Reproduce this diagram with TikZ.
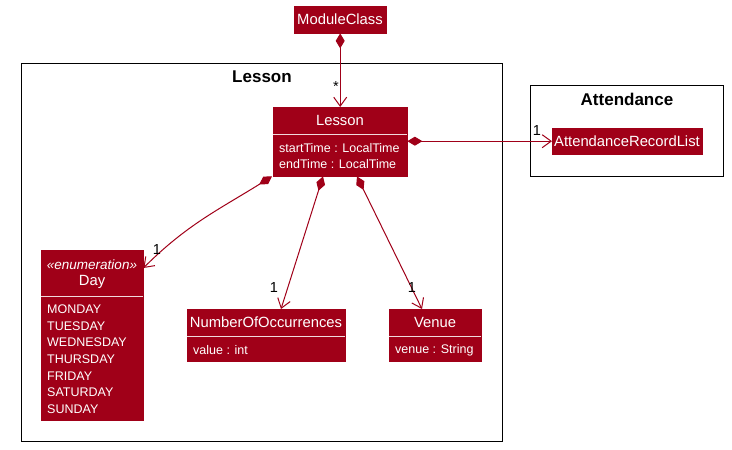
\documentclass[tikz,border=0pt]{standalone}
\usepackage{fontspec}
\setmainfont{Liberation Sans}
\usetikzlibrary{arrows.meta,calc}
\definecolor{umlred}{RGB}{160,0,24}
\begin{document}
\begin{tikzpicture}[x=1pt,y=-1pt,
 cls/.style={fill=umlred,draw=umlred,inner sep=0,anchor=north west},
 nm/.style={text=white,font=\fontsize{14.8}{16}\selectfont,inner sep=0},
 att/.style={text=white,font=\fontsize{12.5}{14}\selectfont,inner sep=0,anchor=west},
 sep/.style={draw=white!85!umlred,line width=1pt},
 pkg/.style={draw=black,line width=1.2pt,anchor=north west,inner sep=0},
 ptitle/.style={font=\bfseries\fontsize{17}{19}\selectfont,inner sep=0},
 comp/.style={draw=umlred,line width=1pt,{Diamond[length=15pt,width=9pt,fill=umlred]}-{Straight Barb[length=9pt,width=13pt]}},
 mult/.style={font=\fontsize{14.5}{16}\selectfont,inner sep=0}
]
\useasboundingbox (0,0) rectangle (732,450);

% packages
\node[pkg,minimum width=481pt,minimum height=378pt] (lessonpkg) at (21,63) {};
\node[ptitle] (lessontitle) at (262,77) {Lesson};
\node[pkg,minimum width=193pt,minimum height=91pt] (attpkg) at (530,85) {};
\node[ptitle] (atttitle) at (627,99) {Attendance};

% ModuleClass
\node[cls,minimum width=92pt,minimum height=27pt] (module) at (294,6) {};
\node[nm] (moduletxt) at (340,19.5) {ModuleClass};

% Lesson
\node[cls,minimum width=134pt,minimum height=69pt] (lesson) at (273,107) {};
\node[nm] (lessontxt) at (340,120.5) {Lesson};
\draw[sep] (273,134) -- (407,134);
\node[att] (lst) at (279,148) {startTime : LocalTime};
\node[att] (let) at (279,164) {endTime : LocalTime};

% AttendanceRecordList
\node[cls,minimum width=150pt,minimum height=26pt] (arl) at (552,128) {};
\node[nm] (arltxt) at (627,141.5) {AttendanceRecordList};

% Day
\node[cls,minimum width=102pt,minimum height=170pt] (day) at (41,250) {};
\node[nm,font=\itshape\fontsize{13.5}{15}\selectfont] (daystereo) at (92,265) {«enumeration»};
\node[nm] (daytxt) at (92,282) {Day};
\draw[sep] (41,296) -- (143,296);
\node[att] (d1) at (47,309) {MONDAY};
\node[att] (d2) at (47,325.7) {TUESDAY};
\node[att] (d3) at (47,342.4) {WEDNESDAY};
\node[att] (d4) at (47,359.1) {THURSDAY};
\node[att] (d5) at (47,375.8) {FRIDAY};
\node[att] (d6) at (47,392.5) {SATURDAY};
\node[att] (d7) at (47,409.2) {SUNDAY};

% NumberOfOccurrences
\node[cls,minimum width=158pt,minimum height=52pt] (noo) at (187,309) {};
\node[nm] (nootxt) at (266,322.5) {NumberOfOccurrences};
\draw[sep] (187,336) -- (345,336);
\node[att] (noov) at (193,350) {value : int};

% Venue
\node[cls,minimum width=92pt,minimum height=52pt] (venue) at (389,309) {};
\node[nm] (venuetxt) at (435,322.5) {Venue};
\draw[sep] (389,336) -- (481,336);
\node[att] (venuev) at (395,350) {venue : String};

% connectors
\draw[comp] (module.south) -- (lesson.north);
\node[mult] (m1) at (336,87) {*};

\draw[comp] (lesson.east |- arl.west) -- (arl.west);
\node[mult] (m2) at (537,131) {1};

\coordinate (dstart) at ($(lesson.south west)+(-1,0)$);
\coordinate (dend) at ($(day.north east)+(0,18)$);
\draw[comp] (dstart) to[out=-148,in=45] (dend);
\node[mult] (m3) at (157,250) {1};

\coordinate (nstart) at ($(lesson.south west)+(50,0)$);
\coordinate (nend) at ($(noo.north west)+(94,0)$);
\draw[comp] (nstart) -- (nend);
\node[mult] (m4) at (274,288) {1};

\coordinate (vstart) at ($(lesson.south west)+(84,0)$);
\coordinate (vend) at ($(venue.north west)+(33,0)$);
\draw[comp] (vstart) -- (vend);
\node[mult] (m5) at (412,288) {1};
\end{tikzpicture}
\end{document}
